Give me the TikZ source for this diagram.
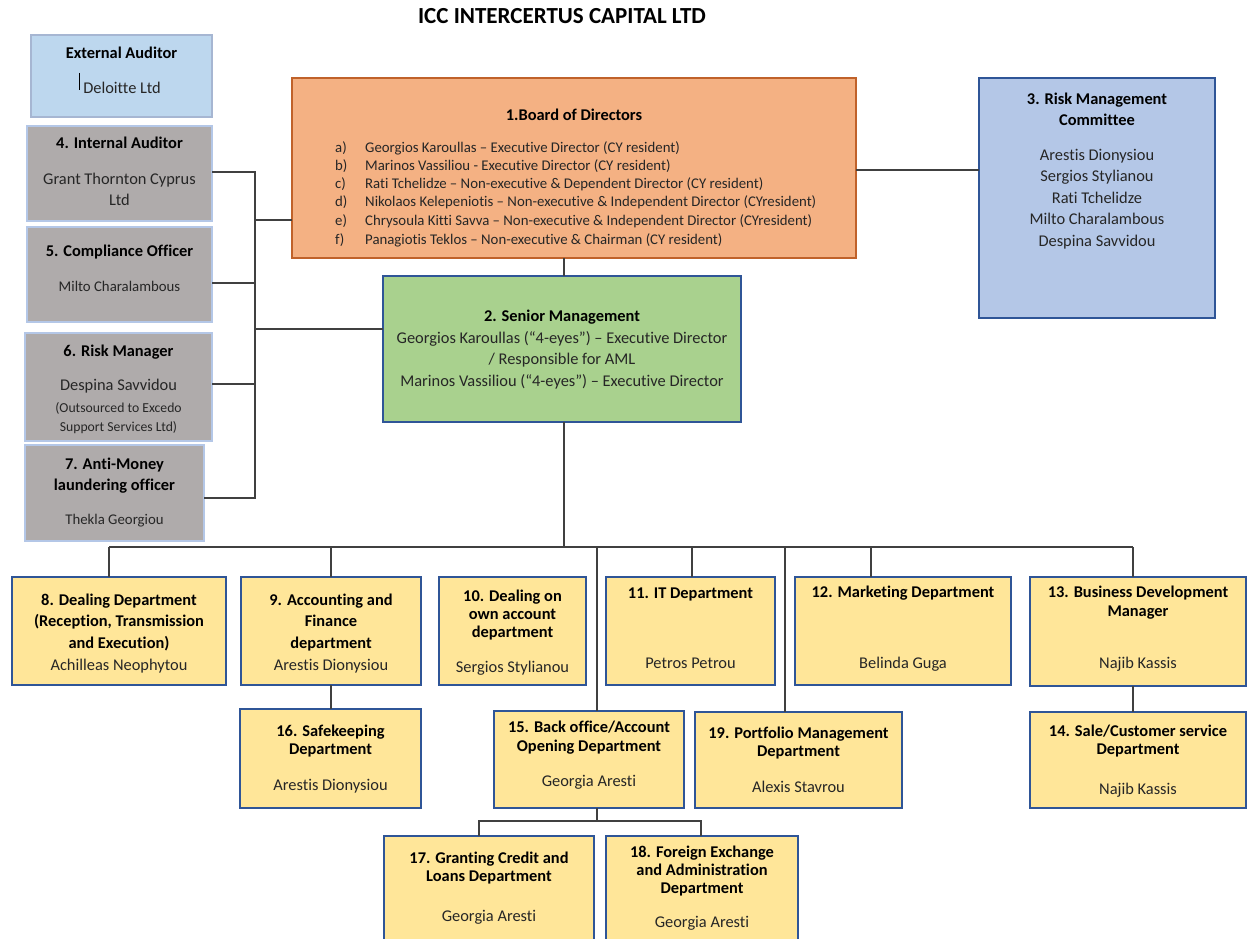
\documentclass[tikz,border=0pt]{standalone}
\usepackage{fontspec}
\setmainfont{Carlito}[Ligatures=NoCommon]
\definecolor{yel}{HTML}{FFE699}
\definecolor{dblue}{HTML}{2F5597}
\definecolor{gry}{HTML}{AFABAB}
\definecolor{lblue}{HTML}{B4C7E7}
\definecolor{extb}{HTML}{BDD7EE}
\definecolor{extbd}{HTML}{A6B6D2}
\definecolor{orng}{HTML}{F4B183}
\definecolor{orngb}{HTML}{C0622A}
\definecolor{grn}{HTML}{A9D18E}
\definecolor{txtc}{HTML}{262626}
\definecolor{lnc}{HTML}{404040}
\newcounter{tlc}
\newcommand\mkbox[6]{\node[box,#6,minimum width={#4-#2},minimum height={#5-#3}] (#1) at (#2,#3) {};}
\newcommand\tl[4]{\stepcounter{tlc}\node[#1] (tl\number\value{tlc}) at (#2,#3) {#4};}
\tikzset{
  box/.style={draw, line width=2pt, inner sep=0pt, outer sep=0pt, anchor=north west},
  yb/.style={fill=yel, draw=dblue},
  gb/.style={fill=gry, draw=lblue, line width=2.5pt},
  ttl/.style={font=\fontsize{16.4}{19}\selectfont\bfseries, text=black, inner sep=0pt, anchor=base},
  nm/.style={font=\fontsize{16.4}{19}\selectfont, text=txtc, inner sep=0pt, anchor=base},
  nms/.style={font=\fontsize{14.8}{17}\selectfont, text=txtc, inner sep=0pt, anchor=base},
  nmx/.style={font=\fontsize{13.7}{16}\selectfont, text=txtc, inner sep=0pt, anchor=base},
  bi/.style={font=\fontsize{14.8}{17}\selectfont, text=txtc, inner sep=0pt, anchor=base west},
  conn/.style={draw=lnc, line width=1.2pt},
}
\begin{document}
\begin{tikzpicture}[x=1pt,y=-1pt]
\useasboundingbox (0,0) rectangle (1248,939);
\clip (0,0) rectangle (1248,939);
\fill[white] (0,0) rectangle (1248,939);
% title
\node[font=\fontsize{23}{26}\selectfont\bfseries, inner sep=0pt, anchor=base] (title) at (562,24) {ICC INTERCERTUS CAPITAL LTD};
% boxes
\mkbox{ext}{31}{35}{212}{117}{fill=extb, draw=extbd}
\mkbox{ia}{27}{126}{212}{221}{gb}
\mkbox{co}{27}{227}{212}{322}{gb}
\mkbox{rm}{25}{333}{212}{441}{gb}
\mkbox{aml}{25}{445}{204}{541}{gb}
\mkbox{bod}{292}{78}{856}{258}{fill=orng, draw=orngb}
\mkbox{rmc}{979}{78}{1215}{318}{fill=lblue, draw=dblue}
\mkbox{sm}{383}{276}{741}{422}{fill=grn, draw=dblue}
\mkbox{d8}{12}{577}{226}{685}{yb}
\mkbox{d9}{241}{577}{421}{685}{yb}
\mkbox{d10}{439}{577}{586}{685}{yb}
\mkbox{d11}{606}{577}{775}{685}{yb}
\mkbox{d12}{795}{577}{1011}{685}{yb}
\mkbox{d13}{1030}{577}{1246}{686}{yb}
\mkbox{d14}{1030}{712}{1246}{808}{yb}
\mkbox{d16}{240}{709}{421}{808}{yb}
\mkbox{d15}{494}{711}{684}{808}{yb}
\mkbox{d19}{695}{712}{902}{808}{yb}
\mkbox{d17}{384}{836}{594}{960}{yb}
\mkbox{d18}{606}{836}{798}{960}{yb}
% texts
\tl{ttl}{121.5}{58.5}{External Auditor}
\tl{nm}{122}{93.5}{Deloitte Ltd}
\draw[line width=0.8pt] (79,73) -- (79,90);
\tl{ttl}{119.5}{148.5}{4. Internal Auditor}
\tl{nm}{119.5}{184.5}{Grant Thornton Cyprus}
\tl{nm}{119.5}{205.5}{Ltd}
\tl{ttl}{119.5}{256.5}{5. Compliance Officer}
\tl{nms}{119.5}{291}{Milto Charalambous}
\tl{ttl}{118.5}{356.5}{6. Risk Manager}
\tl{nm}{118.5}{390.5}{Despina Savvidou}
\tl{nmx}{118.5}{412}{(Outsourced to Excedo}
\tl{nmx}{118.5}{431}{Support Services Ltd)}
\tl{ttl}{114.5}{469.5}{7. Anti-Money}
\tl{ttl}{114.5}{490.5}{laundering officer}
\tl{nms}{114.5}{524}{Thekla Georgiou}
% board
\tl{ttl}{574}{120.5}{1.Board of Directors}
\tl{bi}{335}{153}{a)}\tl{bi}{365}{153}{Georgios Karoullas – Executive Director (CY resident)}
\tl{bi}{335}{171}{b)}\tl{bi}{365}{171}{Marinos Vassiliou - Executive Director (CY resident)}
\tl{bi}{335}{189}{c)}\tl{bi}{365}{189}{Rati Tchelidze – Non-executive \& Dependent Director (CY resident)}
\tl{bi}{335}{207}{d)}\tl{bi}{365}{207}{Nikolaos Kelepeniotis – Non-executive \& Independent Director (CYresident)}
\tl{bi}{335}{225}{e)}\tl{bi}{365}{225}{Chrysoula Kitti Savva – Non-executive \& Independent Director (CYresident)}
\tl{bi}{335}{244}{f)}\tl{bi}{365}{244}{Panagiotis Teklos – Non-executive \& Chairman (CY resident)}
% RMC
\tl{ttl}{1097}{104.5}{3. Risk Management}
\tl{ttl}{1097}{125.5}{Committee}
\tl{nm}{1097}{160.5}{Arestis Dionysiou}
\tl{nm}{1097}{181.5}{Sergios Stylianou}
\tl{nm}{1097}{203.5}{Rati Tchelidze}
\tl{nm}{1097}{224.5}{Milto Charalambous}
\tl{nm}{1097}{246.5}{Despina Savvidou}
% SM
\tl{ttl}{562}{321.5}{2. Senior Management}
\tl{nm}{562}{343.5}{Georgios Karoullas (“4-eyes”) – Executive Director}
\tl{nm}{562}{364.5}{/ Responsible for AML}
\tl{nm}{562}{386.5}{Marinos Vassiliou (“4-eyes”) – Executive Director}
% departments
\tl{ttl}{119}{605.5}{8. Dealing Department}
\tl{ttl}{119}{626.5}{(Reception, Transmission}
\tl{ttl}{119}{648.5}{and Execution)}
\tl{nm}{119}{670.5}{Achilleas Neophytou}
\tl{ttl}{331}{605.5}{9. Accounting and}
\tl{ttl}{331}{626.5}{Finance}
\tl{ttl}{331}{648.5}{department}
\tl{nm}{331}{670.5}{Arestis Dionysiou}
\tl{ttl}{512.5}{601.5}{10. Dealing on}
\tl{ttl}{512.5}{619.5}{own account}
\tl{ttl}{512.5}{637.5}{department}
\tl{nm}{512.5}{672.5}{Sergios Stylianou}
\tl{ttl}{690.5}{598.5}{11. IT Department}
\tl{nm}{690.5}{668.5}{Petros Petrou}
\tl{ttl}{903}{597.5}{12. Marketing Department}
\tl{nm}{903}{668.5}{Belinda Guga}
\tl{ttl}{1138}{597.5}{13. Business Development}
\tl{ttl}{1138}{616.5}{Manager}
\tl{nm}{1138}{668.5}{Najib Kassis}
\tl{ttl}{1138}{736.5}{14. Sale/Customer service}
\tl{ttl}{1138}{754.5}{Department}
\tl{nm}{1138}{794.5}{Najib Kassis}
\tl{ttl}{330.5}{736.5}{16. Safekeeping}
\tl{ttl}{330.5}{754.5}{Department}
\tl{nm}{330.5}{790.5}{Arestis Dionysiou}
\tl{ttl}{589}{732.5}{15. Back office/Account}
\tl{ttl}{589}{751.5}{Opening Department}
\tl{nm}{589}{786.5}{Georgia Aresti}
\tl{ttl}{798.5}{738.5}{19. Portfolio Management}
\tl{ttl}{798.5}{756.5}{Department}
\tl{nm}{798.5}{792.5}{Alexis Stavrou}
\tl{ttl}{489}{863.5}{17. Granting Credit and}
\tl{ttl}{489}{881.5}{Loans Department}
\tl{nm}{489}{921.5}{Georgia Aresti}
\tl{ttl}{702}{857.5}{18. Foreign Exchange}
\tl{ttl}{702}{875.5}{and Administration}
\tl{ttl}{702}{893.5}{Department}
\tl{nm}{702}{927.5}{Georgia Aresti}
% connectors
\coordinate (L1) at (255,172);
\coordinate (L2) at (255,283);
\coordinate (L3) at (255,384);
\coordinate (L4) at (255,498);
\coordinate (Lb) at (255,220);
\coordinate (Ls) at (255,329);
\coordinate (R) at (900,170);
\coordinate (Cx) at (564,547);
\coordinate (B8) at (109,547);
\coordinate (B9) at (331,547);
\coordinate (B11) at (692,547);
\coordinate (B12) at (871,547);
\coordinate (B13) at (1133,547);
\coordinate (B15) at (597,547);
\coordinate (B19) at (785,547);
\coordinate (F) at (597,821);
\coordinate (F17) at (479,821);
\coordinate (F18) at (701,821);
\draw[conn] (ia.east |- L1) -- (L1) -- (L4) -- (aml.east |- L4);
\draw[conn] (co.east |- L2) -- (L2);
\draw[conn] (rm.east |- L3) -- (L3);
\draw[conn] (Lb) -- (bod.west |- Lb);
\draw[conn] (Ls) -- (sm.west |- Ls);
\draw[conn] (bod.east |- R) -- (rmc.west |- R);
\draw[conn] (bod.south -| Cx) -- (sm.north -| Cx);
\draw[conn] (sm.south -| Cx) -- (Cx);
\draw[conn] (B8) -- (B13);
\draw[conn] (B8) -- (d8.north -| B8);
\draw[conn] (B9) -- (d9.north -| B9);
\draw[conn] (B11) -- (d11.north -| B11);
\draw[conn] (B12) -- (d12.north -| B12);
\draw[conn] (B13) -- (d13.north -| B13);
\draw[conn] (B15) -- (d15.north -| B15);
\draw[conn] (B19) -- (d19.north -| B19);
\draw[conn] (d9.south -| B9) -- (d16.north -| B9);
\draw[conn] (d13.south -| B13) -- (d14.north -| B13);
\draw[conn] (d15.south -| F) -- (F);
\draw[conn] (d17.north -| F17) -- (F17) -- (F18) -- (d18.north -| F18);
\end{tikzpicture}
\end{document}
